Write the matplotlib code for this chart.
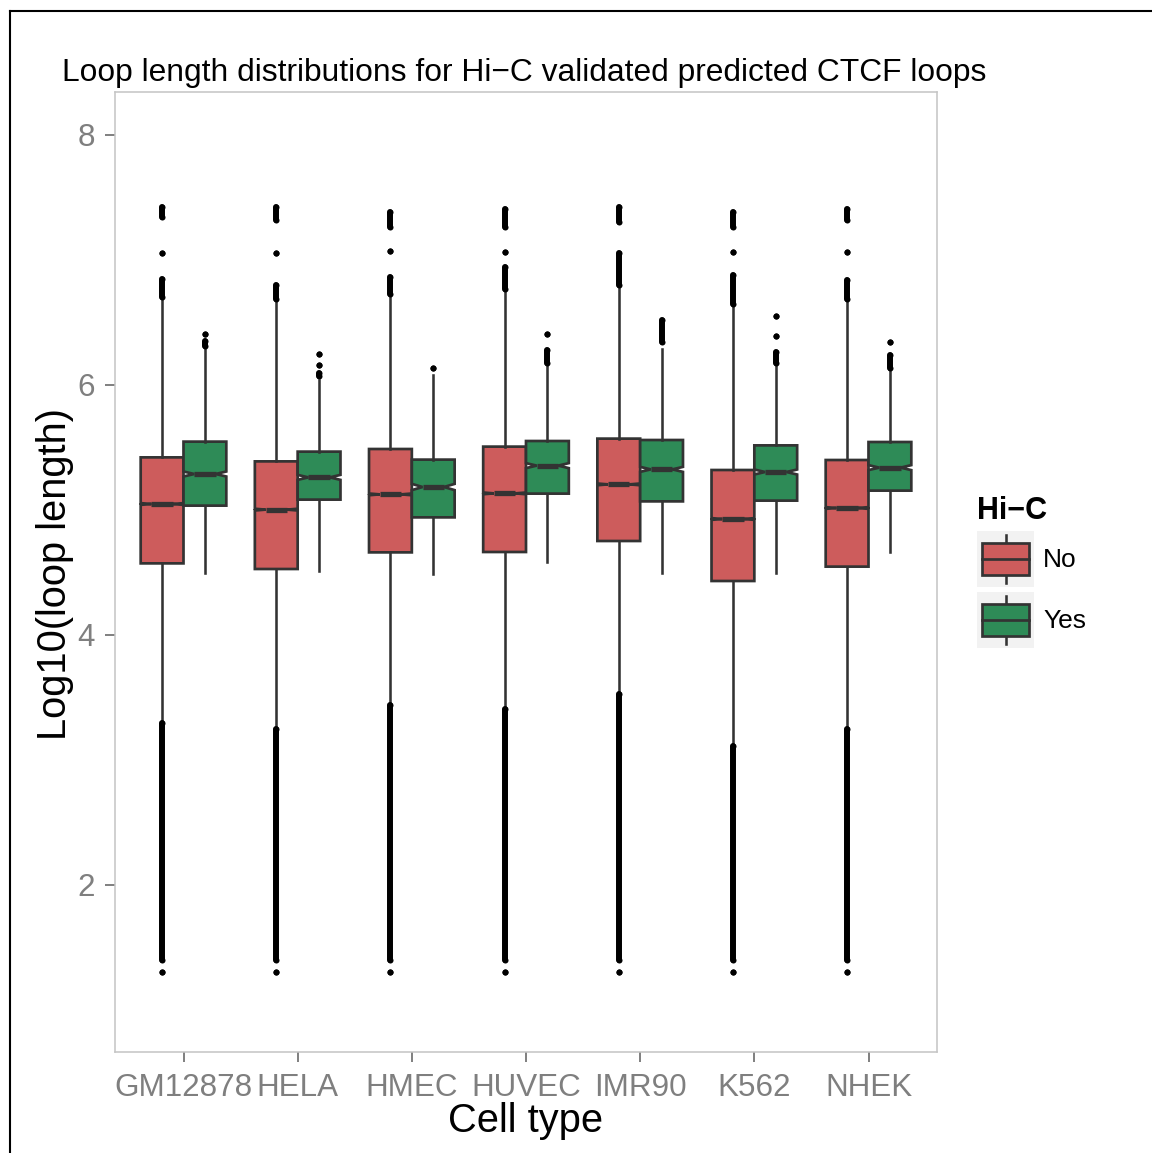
import matplotlib
matplotlib.use("Agg")
import matplotlib.pyplot as plt
import numpy as np
from matplotlib.lines import Line2D
from matplotlib.patches import Rectangle, Patch
from matplotlib.legend_handler import HandlerBase

plt.rcParams['font.family'] = ['Liberation Sans', 'DejaVu Sans']

# ---------------- data ----------------
cells = ["GM12878", "HELA", "HMEC", "HUVEC", "IMR90", "K562", "NHEK"]
groups = ["No", "Yes"]

no_q1 = [4.573, 4.528, 4.661, 4.664, 4.752, 4.432, 4.547]
no_med = [5.048, 5.003, 5.125, 5.133, 5.205, 4.928, 5.016]
no_q3 = [5.421, 5.389, 5.488, 5.507, 5.571, 5.320, 5.400]
no_whishi = [6.696, 6.680, 6.720, 6.760, 6.787, 6.640, 6.680]
no_whislo = [3.306, 3.253, 3.445, 3.419, 3.541, 3.115, 3.259]
no_notch = [0.007, 0.007, 0.007, 0.007, 0.007, 0.007, 0.007]

yes_q1 = [5.035, 5.083, 4.941, 5.131, 5.069, 5.075, 5.155]
yes_med = [5.288, 5.261, 5.184, 5.355, 5.325, 5.304, 5.339]
yes_q3 = [5.547, 5.467, 5.403, 5.552, 5.560, 5.517, 5.544]
yes_whishi = [6.307, 6.040, 6.080, 6.176, 6.290, 6.176, 6.136]
yes_whislo = [4.499, 4.515, 4.488, 4.587, 4.499, 4.499, 4.661]
yes_notch = [0.02, 0.02, 0.025, 0.02, 0.02, 0.02, 0.02]

# outlier clusters (low, high); single points have low == high
no_outliers = [
    [(6.70, 6.85), (7.06, 7.06), (7.34, 7.42), (1.40, 3.30), (1.306, 1.306)],
    [(6.69, 6.80), (7.06, 7.06), (7.32, 7.42), (1.40, 3.25), (1.306, 1.306)],
    [(6.73, 6.86), (7.07, 7.07), (7.26, 7.38), (1.40, 3.44), (1.306, 1.306)],
    [(6.77, 6.94), (7.067, 7.067), (7.26, 7.41), (1.40, 3.41), (1.306, 1.306)],
    [(6.80, 7.06), (7.30, 7.42), (1.40, 3.53), (1.306, 1.306)],
    [(6.65, 6.88), (7.067, 7.067), (7.26, 7.38), (1.40, 3.11), (1.306, 1.306)],
    [(6.69, 6.84), (7.067, 7.067), (7.32, 7.41), (1.40, 3.25), (1.306, 1.306)],
]
yes_outliers = [
    [(6.31, 6.35), (6.41, 6.41)],
    [(6.07, 6.10), (6.16, 6.16), (6.25, 6.25)],
    [(6.136, 6.136)],
    [(6.18, 6.28), (6.408, 6.408)],
    [(6.34, 6.52)],
    [(6.18, 6.26), (6.39, 6.39), (6.55, 6.55)],
    [(6.14, 6.24), (6.344, 6.344)],
]

yticks = [2, 4, 6, 8]
title = "Loop length distributions for Hi\u2212C validated predicted CTCF loops"
xlabel = "Cell type"
ylabel = "Log10(loop length)"
legend_title = "Hi\u2212C"

# ---------------- style ----------------
RED = "#CD5C5C"
GREEN = "#2E8B57"
EDGE = "#333333"
W = 1152
H = 1153

fig = plt.figure(figsize=(W / 100, H / 100), dpi=100)
ax = fig.add_axes([115 / W, 1 - 1052 / H, (937 - 115) / W, (1052 - 92) / H])

pos = np.arange(1, len(cells) + 1)
dodge = 0.1875
bw = 0.375


def make_stats(q1, med, q3, lo, hi, notch):
    out = []
    for a, m, b, l, h, n in zip(q1, med, q3, lo, hi, notch):
        out.append(dict(q1=a, med=m, q3=b, whislo=l, whishi=h,
                        cilo=m - n, cihi=m + n, fliers=[]))
    return out


for stats, offs, col in [
    (make_stats(no_q1, no_med, no_q3, no_whislo, no_whishi, no_notch), -dodge, RED),
    (make_stats(yes_q1, yes_med, yes_q3, yes_whislo, yes_whishi, yes_notch), dodge, GREEN),
]:
    ax.bxp(stats, positions=pos + offs, widths=bw, shownotches=True,
           showcaps=False, showfliers=False, patch_artist=True,
           boxprops=dict(facecolor=col, edgecolor=EDGE, linewidth=1.95),
           whiskerprops=dict(color=EDGE, linewidth=1.85),
           medianprops=dict(color=EDGE, linewidth=3.8, solid_capstyle='butt'),
           manage_ticks=False)

for outs, offs in [(no_outliers, -dodge), (yes_outliers, dodge)]:
    for i, clusters in enumerate(outs):
        x = pos[i] + offs
        for lo, hi in clusters:
            if hi > lo:
                ax.plot([x, x], [lo, hi], color='black', lw=4.3,
                        solid_capstyle='round', zorder=3)
            ax.scatter([x, x], [lo, hi], s=19, color='black', lw=0, zorder=3)

ax.set_xlim(0.4, 7.6)
ax.set_ylim(0.664, 8.344)
ax.set_xticks(pos)
ax.set_xticklabels(cells)
ax.set_yticks(yticks)
ax.set_yticklabels([str(t) for t in yticks])
ax.tick_params(axis='both', colors='#7F7F7F', labelcolor='#7F7F7F',
               length=7.5, width=1.4, labelsize=22.6)
ax.tick_params(axis='x', pad=7.5)
ax.tick_params(axis='y', pad=7)
for s in ax.spines.values():
    s.set_color('#C4C4C4')
    s.set_linewidth(1.1)
ax.set_facecolor('white')

fig.text(62 / W, 1 - 73.5 / H, title, ha='left', va='center', fontsize=22.9, color='black')
fig.text(526 / W, 1 - 1121 / H, xlabel, ha='center', va='center', fontsize=28.7, color='black')
fig.text(55 / W, 1 - 574 / H, ylabel, ha='center', va='center', rotation=90,
         fontsize=28.7, color='black')

# figure frame (left + top)
fig.add_artist(Line2D([10 / W, 10 / W], [0, 1 - 11 / H], transform=fig.transFigure,
                      color='black', lw=1.5))
fig.add_artist(Line2D([10 / W, 1], [1 - 11 / H, 1 - 11 / H], transform=fig.transFigure,
                      color='black', lw=1.5))


class BoxHandler(HandlerBase):
    def create_artists(self, legend, orig_handle, xdescent, ydescent, width, height,
                       fontsize, trans):
        col = orig_handle.get_facecolor()
        x0, y0 = -xdescent, -ydescent
        bg = Rectangle((x0, y0), width, height, fc='#F2F2F2', ec='none', transform=trans)
        bx0 = x0 + width * 0.09
        bww = width * 0.82
        by0 = y0 + height * 0.22
        bh = height * 0.56
        box = Rectangle((bx0, by0), bww, bh, fc=col, ec=EDGE, lw=1.95, transform=trans)
        med = Line2D([bx0, bx0 + bww], [by0 + bh / 2] * 2, color=EDGE, lw=1.95, transform=trans)
        cx = x0 + width / 2
        w1 = Line2D([cx, cx], [y0 + height * 0.07, by0], color=EDGE, lw=1.85, transform=trans)
        w2 = Line2D([cx, cx], [by0 + bh, y0 + height * 0.93], color=EDGE, lw=1.85, transform=trans)
        return [bg, w1, w2, box, med]


handles = [Patch(facecolor=RED), Patch(facecolor=GREEN)]
leg = fig.legend(handles, groups, title=legend_title, loc='upper left',
                 bbox_to_anchor=(977 / W, 1 - 496 / H), frameon=False,
                 fontsize=19, title_fontproperties={'weight': 'bold', 'size': 22},
                 handlelength=2.16, handleheight=2.885, handletextpad=0.35,
                 labelspacing=0.19, borderpad=0, borderaxespad=0,
                 alignment='left', handler_map={Patch: BoxHandler()})

fig.savefig("out.png", dpi=100, facecolor='white')
